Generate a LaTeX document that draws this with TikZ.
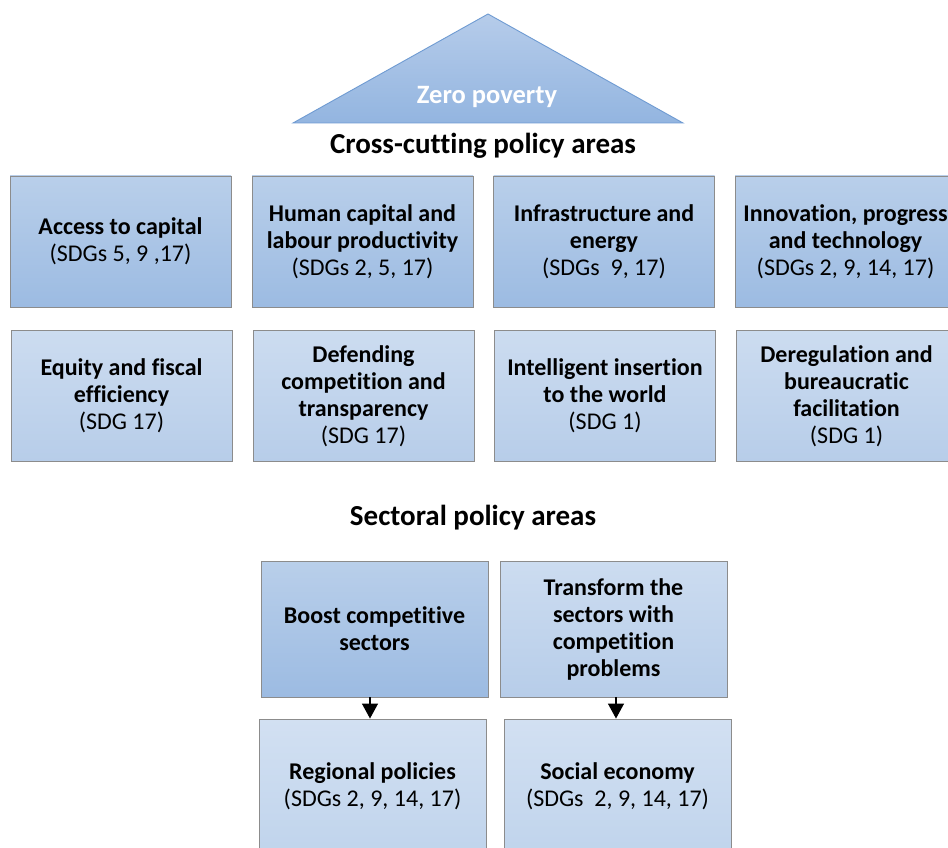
\documentclass[tikz,border=0pt]{standalone}
\usepackage{fontspec}
\setmainfont[Ligatures=NoCommon]{Carlito}
\usetikzlibrary{arrows.meta,calc}
\definecolor{dkTop}{HTML}{B9CFEA}
\definecolor{dkBot}{HTML}{9CBBE2}
\definecolor{ltTop}{HTML}{CCDCF0}
\definecolor{ltBot}{HTML}{B7CDE9}
\definecolor{xlTop}{HTML}{D2E0F2}
\definecolor{xlBot}{HTML}{C0D4EC}
\definecolor{triTop}{HTML}{B6CCEA}
\definecolor{triBot}{HTML}{93B5E0}
\definecolor{triLine}{HTML}{6F9BD2}
\definecolor{edge}{HTML}{8C8C8C}
\tikzset{
  box/.style={rectangle, draw=edge, line width=0.9pt, minimum width=221pt, minimum height=131pt,
    align=center, font=\fontsize{24}{27}\selectfont, inner sep=1pt},
  dark/.style={box, top color=dkTop, bottom color=dkBot},
  light/.style={box, top color=ltTop, bottom color=ltBot},
  xlight/.style={box, top color=xlTop, bottom color=xlBot},
  heading/.style={font=\fontsize{29}{32}\selectfont\bfseries},
  conn/.style={line width=1.3pt, -{Triangle[width=16pt,length=15pt]}}
}
\begin{document}
\begin{tikzpicture}[x=1pt,y=-1pt]
\clip (0,0) rectangle (948,848);
\fill[white] (0,0) rectangle (948,848);
% triangle
\coordinate (apex) at (488,14);
\coordinate (bl) at (293,123);
\coordinate (br) at (683,123);
\shade[top color=triTop, bottom color=triBot, draw=triLine, line width=0.9pt] (apex) -- (br) -- (bl) -- cycle;
\node[font=\fontsize{26.5}{30}\selectfont\bfseries, text=white] (zero) at (487,97) {Zero poverty};
\node[heading] (cross) at (483,146) {Cross-cutting policy areas};
% row 1
\node[dark] (a1) at (120.5,241.5) {\textbf{Access to capital}\\(SDGs 5, 9 ,17)};
\node[dark] (a2) at (362.5,241.5) {\textbf{Human capital and}\\\textbf{labour productivity}\\(SDGs 2, 5, 17)};
\node[dark] (a3) at (604,241.5) {\textbf{Infrastructure and}\\\textbf{energy}\\(SDGs~~9, 17)};
\node[dark] (a4) at (845.5,241.5) {\textbf{Innovation, progress}\\\textbf{and technology}\\(SDGs 2, 9, 14, 17)};
% row 2
\node[light] (b1) at (121.5,396) {\textbf{Equity and fiscal}\\\textbf{efficiency}\\(SDG 17)};
\node[light] (b2) at (363.5,396) {\textbf{Defending}\\\textbf{competition and}\\\textbf{transparency}\\(SDG 17)};
\node[light] (b3) at (605,396) {\textbf{Intelligent insertion}\\\textbf{to the world}\\(SDG 1)};
\node[light] (b4) at (846.5,396) {\textbf{Deregulation and}\\\textbf{bureaucratic}\\\textbf{facilitation}\\(SDG 1)};
\node[heading] (sect) at (473,518) {Sectoral policy areas};
% bottom
\node[dark, minimum width=227pt, minimum height=136pt] (boost) at (374.5,629) {\textbf{Boost competitive}\\\textbf{sectors}};
\node[light, minimum width=227pt, minimum height=136pt] (trans) at (613.5,629) {\textbf{Transform the}\\\textbf{sectors with}\\\textbf{competition}\\\textbf{problems}};
\node[xlight, minimum width=227pt, minimum height=134pt] (reg) at (372.5,786) {\textbf{Regional policies}\\(SDGs 2, 9, 14, 17)};
\node[xlight, minimum width=227pt, minimum height=134pt] (soc) at (617.5,786) {\textbf{Social economy}\\(SDGs~~2, 9, 14, 17)};
\draw[conn] ([xshift=-4.5pt]boost.south) -- ([xshift=-2.5pt]reg.north);
\draw[conn] ([xshift=2.5pt]trans.south) -- ([xshift=-1.5pt]soc.north);
\end{tikzpicture}
\end{document}
